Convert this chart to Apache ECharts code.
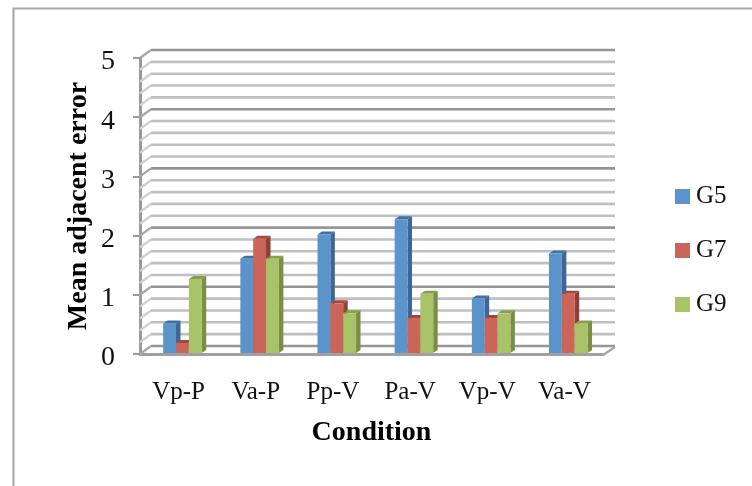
<!DOCTYPE html>
<html><head><meta charset="utf-8">
<style>html,body{margin:0;padding:0;background:#fff}#c{width:752px;height:486px}</style>
<script src="https://cdn.jsdelivr.net/npm/echarts@6/dist/echarts.min.js"></script>
</head><body><div id="c"></div>
<script>
const categories = ['Vp-P','Va-P','Pp-V','Pa-V','Vp-V','Va-V'];
const g5 = [0.5,1.59,2.0,2.26,0.92,1.68];
const g7 = [0.17,1.93,0.84,0.59,0.59,1.0];
const g9 = [1.25,1.59,0.67,1.0,0.67,0.5];
const gridLevels = [0,0.2,0.4,0.6,0.8,1,1.2,1.4,1.6,1.8,2,2.2,2.4,2.6,2.8,3,3.2,3.4,3.6,3.8,4,4.2,4.4,4.6,4.8,5];
const majorLevels = [0,1,2,3,4,5];

const FONT = '"Liberation Serif", serif';
const chart = echarts.init(document.getElementById('c'), null, {renderer:'canvas'});

function wallItem(params, api){
  const v = api.value(1);
  const cs = params.coordSys;
  const p = api.coord([0, v]);
  const x0 = cs.x, x1 = cs.x + cs.width, y = p[1];
  const major = majorLevels.indexOf(v) >= 0;
  const col = major ? '#969696' : '#bfbfbf';
  const diag = major ? '#a8a8a8' : '#d0d0d0';
  const children = [
    {type:'line', shape:{x1:x0,y1:y,x2:x0+11,y2:y-8}, style:{stroke:diag,lineWidth:2.4}},
    {type:'line', shape:{x1:x0+11,y1:y-8,x2:x1+12,y2:y-8}, style:{stroke:col,lineWidth:2.6}}
  ];
  if (v === 0) {
    children.push({type:'line', shape:{x1:x1,y1:y+1,x2:x1+12,y2:y-7}, style:{stroke:'#a8a8a8',lineWidth:2.4}});
  }
  return {type:'group', children};
}

function barRenderer(k, front, side, top){
  return function(params, api){
    const i = api.value(0), v = api.value(1);
    const band = api.size([1,0])[0];
    const w = band * 0.1665;
    const c = api.coord([i, 0]);
    const t = api.coord([i, v]);
    const x0 = c[0] + band*0.05 + (k-1.5)*w;
    const x1 = x0 + w;
    const yb = c[1]-1, yt = t[1]-1;
    const dx = 4.5, dy = 3;
    return {type:'group', children:[
      {type:'polygon', shape:{points:[[x1,yb],[x1+dx,yb-dy],[x1+dx,yt-dy],[x1,yt]]}, style:{fill:side}},
      {type:'polygon', shape:{points:[[x0,yt],[x0+dx,yt-dy],[x1+dx,yt-dy],[x1,yt]]}, style:{fill:top}},
      {type:'rect', shape:{x:x0,y:yt,width:w,height:yb-yt}, style:{fill:front}}
    ]};
  };
}
function barSeries(name, values, k, front, side, top){
  return {type:'custom', name, renderItem:barRenderer(k,front,side,top),
    data:values.map((v,i)=>[i,v]), encode:{x:0,y:1}, itemStyle:{color:front}, clip:false, z:5, silent:true};
}

chart.setOption({
  animation:false,
  backgroundColor:'#fff',
  graphic:[{type:'rect', shape:{x:13.5,y:8.5,width:800,height:600}, style:{fill:'none',stroke:'#a6a6a6',lineWidth:2}, silent:true}],
  grid:{left:140,right:149,top:58,bottom:132},
  legend:{data:['G5','G7','G9'], orient:'vertical', left:675, top:184, padding:0, itemWidth:15, itemHeight:15, itemGap:29, itemGap:29,
    icon:'rect', selectedMode:false,
    textStyle:{fontFamily:FONT,fontSize:25,color:'#111',padding:[0,0,0,1]}},
  xAxis:{type:'category',data:categories,
    name:'Condition',nameLocation:'middle',nameGap:65,
    nameTextStyle:{fontFamily:FONT,fontWeight:'bold',fontSize:28,color:'#000'},
    axisLine:{show:true,lineStyle:{color:'#a0a0a0',width:3}},axisTick:{show:false},
    axisLabel:{fontFamily:FONT,fontSize:25,color:'#111',margin:26},splitLine:{show:false}},
  yAxis:{type:'value',min:0,max:5,interval:1,
    name:'Mean adjacent error',nameLocation:'middle',nameGap:47,nameMoveOverlap:false,
    nameTextStyle:{fontFamily:FONT,fontWeight:'bold',fontSize:28,color:'#000'},
    axisLine:{show:true,lineStyle:{color:'#9a9a9a',width:3}},
    axisTick:{show:true,length:7,lineStyle:{color:'#9a9a9a',width:2}},
    axisLabel:{fontFamily:FONT,fontSize:28,color:'#111',margin:25,verticalAlign:'top',lineHeight:8},splitLine:{show:false}},
  series:[
    {type:'custom',name:'wall',renderItem:wallItem,data:gridLevels.map(v=>[0,v]),encode:{x:0,y:1},clip:false,z:1,silent:true},
    barSeries('G5',g5,0,'#5b94cb','#3e6795','#3f70a6'),
    barSeries('G7',g7,1,'#cb6459','#8f3e38','#a8443d'),
    barSeries('G9',g9,2,'#a9c468','#7a8e48','#87a04e')
  ]
});
</script></body></html>
